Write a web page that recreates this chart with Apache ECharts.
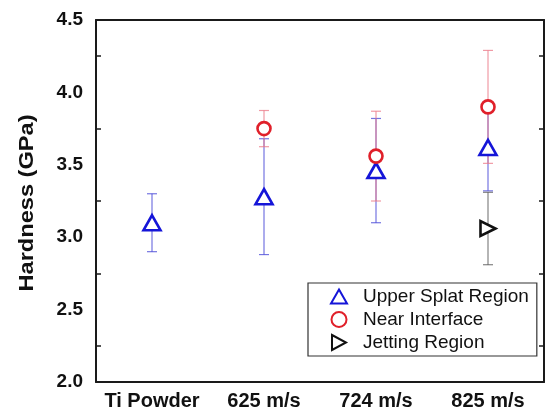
<!DOCTYPE html>
<html>
<head>
<meta charset="utf-8">
<script src="https://cdn.jsdelivr.net/npm/echarts@6/dist/echarts.min.js"></script>
<style>
  html, body { margin: 0; padding: 0; background: #fff; }
  #chart { width: 546px; height: 414px; }
</style>
</head>
<body>
<div id="chart"></div>
<script>
const categories = ['Ti Powder', '625 m/s', '724 m/s', '825 m/s'];

// mean hardness and half error bar, GPa
const upperMean = [3.10, 3.28, 3.46, 3.62];
const upperErr = [0.20, 0.40, 0.36, 0.30];
const nearMean = [null, 3.75, 3.56, 3.90];
const nearErr = [null, 0.125, 0.31, 0.39];
const jetMean = [null, null, null, 3.06];
const jetErr = [null, null, null, 0.25];

const yTicks = [2.0, 2.5, 3.0, 3.5, 4.0, 4.5];

const font = 'Liberation Sans, Arial, sans-serif';

function barData(mean, err) {
  const out = [];
  mean.forEach((m, i) => {
    if (m != null) out.push([i, m - err[i], m + err[i]]);
  });
  return out;
}

function errorSeries(mean, err, color) {
  return {
    type: 'custom',
    z: 1,
    silent: true,
    data: barData(mean, err),
    renderItem: (params, api) => {
      const lo = api.coord([api.value(0), api.value(1)]);
      const hi = api.coord([api.value(0), api.value(2)]);
      const cap = 5;
      const style = { stroke: color, lineWidth: 1.2 };
      return {
        type: 'group',
        children: [
          { type: 'line', shape: { x1: lo[0], y1: lo[1], x2: hi[0], y2: hi[1] }, style },
          { type: 'line', shape: { x1: lo[0] - cap, y1: lo[1], x2: lo[0] + cap, y2: lo[1] }, style },
          { type: 'line', shape: { x1: hi[0] - cap, y1: hi[1], x2: hi[0] + cap, y2: hi[1] }, style }
        ]
      };
    }
  };
}

function markers(name, mean, symbol, size, color, rotate) {
  return {
    name: name,
    type: 'scatter',
    z: 3,
    symbol: symbol,
    symbolSize: size,
    symbolRotate: rotate || 0,
    itemStyle: { color: '#fff', borderColor: color, borderWidth: 2.6, opacity: 1 },
    data: mean.map(v => (v == null ? '-' : v))
  };
}

const chart = echarts.init(document.getElementById('chart'));

const axisLine = { show: true, onZero: false, lineStyle: { color: '#1a1a1a', width: 2 } };
const tickStyle = { color: '#1a1a1a', width: 1.5 };

chart.setOption({
  animation: false,
  backgroundColor: '#fff',
  grid: { left: 96, right: 2, top: 20, bottom: 32 },
  legend: {
    orient: 'vertical',
    left: 308,
    top: 283,
    padding: [4, 8, 4, 22],
    itemWidth: 16,
    itemHeight: 15,
    itemGap: 4,
    borderColor: '#333',
    borderWidth: 1.2,
    textStyle: { fontSize: 19, fontFamily: font, color: '#111', padding: [0, 0, 0, 11] },
    data: [
      { name: 'Upper Splat Region', icon: 'path://M8,0L16,14L0,14Z' },
      { name: 'Near Interface', icon: 'circle' },
      { name: 'Jetting Region', icon: 'path://M0,0L14,7.5L0,15Z' }
    ]
  },
  graphic: [
    {
      type: 'text',
      x: 27,
      y: 203,
      rotation: Math.PI / 2,
      scaleX: 1.18,
      style: {
        text: 'Hardness (GPa)',
        fontSize: 20,
        fontWeight: 'bold',
        fontFamily: font,
        fill: '#111',
        align: 'center',
        verticalAlign: 'middle'
      }
    }
  ],
  xAxis: [
    {
      type: 'category',
      data: categories,
      position: 'bottom',
      axisLine: axisLine,
      axisTick: { inside: true, alignWithLabel: true, length: 8, lineStyle: tickStyle },
      axisLabel: { interval: 0, margin: 9, fontSize: 20, fontWeight: 'bold', fontFamily: font, color: '#111' },
      splitLine: { show: false }
    },
    {
      type: 'category',
      data: categories,
      position: 'top',
      axisLine: axisLine,
      axisTick: { inside: true, alignWithLabel: true, length: 8, lineStyle: tickStyle },
      axisLabel: { show: false },
      splitLine: { show: false }
    }
  ],
  yAxis: [
    {
      type: 'value',
      min: yTicks[0],
      max: yTicks[yTicks.length - 1],
      interval: 0.5,
      position: 'left',
      axisLine: axisLine,
      axisTick: { inside: true, length: 8, lineStyle: tickStyle },
      minorTick: { show: true, splitNumber: 2, length: 5, lineStyle: tickStyle },
      axisLabel: {
        margin: 13, fontSize: 19, fontWeight: 'bold', fontFamily: font, color: '#111',
        formatter: v => v.toFixed(1)
      },
      splitLine: { show: false }
    },
    {
      type: 'value',
      min: yTicks[0],
      max: yTicks[yTicks.length - 1],
      interval: 0.5,
      position: 'right',
      axisLine: axisLine,
      axisTick: { inside: true, length: 7, lineStyle: tickStyle },
      minorTick: { show: true, splitNumber: 2, length: 5, lineStyle: tickStyle },
      axisLabel: { show: false },
      splitLine: { show: false }
    }
  ],
  series: [
    errorSeries(upperMean, upperErr, 'rgba(70,70,215,0.75)'),
    errorSeries(jetMean, jetErr, 'rgba(90,90,90,0.75)'),
    errorSeries(nearMean, nearErr, 'rgba(235,120,135,0.75)'),
    markers('Upper Splat Region', upperMean, 'triangle', [17, 15], '#1515d8'),
    markers('Near Interface', nearMean, 'circle', 13, '#e0202a'),
    markers('Jetting Region', jetMean, 'triangle', [15, 15], '#111', -90)
  ]
});
</script>
</body>
</html>
